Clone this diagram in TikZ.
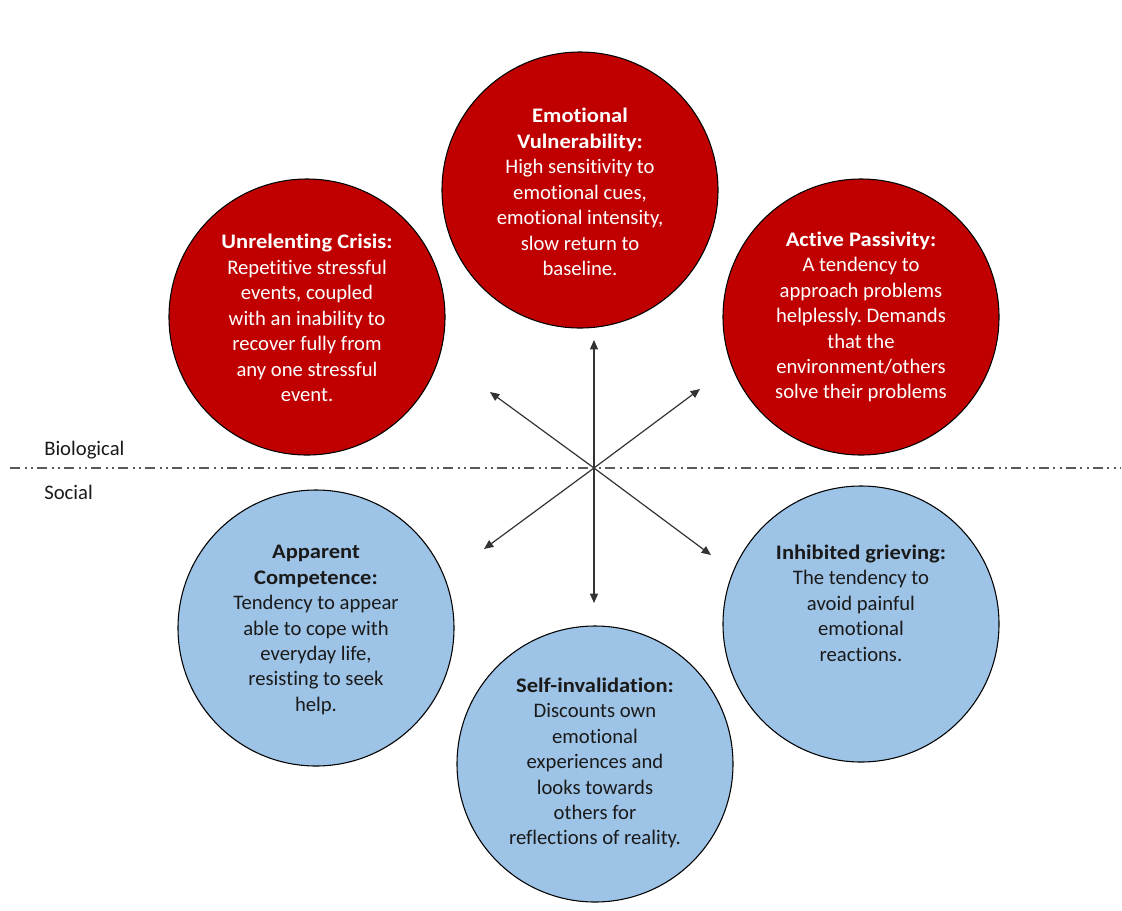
\documentclass[tikz,border=0pt]{standalone}
\usepackage{fontspec}
\setmainfont{Carlito}[Ligatures=NoCommon,BoldFeatures={FakeStretch=1.09}]
\usetikzlibrary{arrows.meta}
\definecolor{bioRed}{HTML}{C00000}
\definecolor{socBlue}{HTML}{9DC3E6}
\definecolor{inkDark}{HTML}{1A1A1A}
\frenchspacing
\begin{document}
\begin{tikzpicture}[x=0.75pt,y=-0.75pt,
  bubble/.style={circle,draw=black,line width=0.8pt,minimum size=207pt,inner sep=0pt},
  bio/.style={bubble,fill=bioRed},
  soc/.style={bubble,fill=socBlue},
  blurb/.style={align=center,font=\fontsize{15.5}{19.1}\selectfont,inner sep=0pt},
  biotext/.style={blurb,text=white},
  soctext/.style={blurb,text=inkDark},
  axis/.style={line width=0.9pt,draw=black!80,-{Triangle[length=7pt,width=6pt]}},
  side/.style={font=\fontsize{15.5}{17}\selectfont,text=inkDark,anchor=west,inner sep=0pt}]
\useasboundingbox (0,0) rectangle (1122,911);

% dividing line between the two halves
\coordinate (divL) at (10,468);
\coordinate (divR) at (1120,468);
\draw[black!65,line width=1.3pt,dash pattern=on 7.5pt off 3.4pt on 1.5pt off 3.4pt on 1.5pt off 3pt] (divL) -- (divR);
\node[side] (biolab) at (44,450) {Biological};
\node[side] (soclab) at (44,492) {Social};

% biological factors
\node[bio] (ev) at (580,190) {};
\node[bio] (uc) at (307,317) {};
\node[bio] (ap) at (861,317) {};
% social factors
\node[soc] (ac) at (316,628) {};
\node[soc] (ig) at (861,624) {};
\node[soc] (si) at (595,764) {};

\node[biotext] (evt) at (580,192) {\textbf{Emotional}\\\textbf{Vulnerability:}\\High sensitivity to\\emotional cues,\\emotional intensity,\\slow return to\\baseline.};
\node[biotext] (uct) at (307,318) {\textbf{Unrelenting Crisis:}\\Repetitive stressful\\events, coupled\\with an inability to\\recover fully from\\any one stressful\\event.};
\node[biotext] (apt) at (861,317) {\textbf{Active Passivity:}\\A tendency to\\approach problems\\helplessly. Demands\\that the\\environment/others\\solve their problems};
\node[soctext] (act) at (316,630) {\textbf{Apparent}\\\textbf{Competence:}\\Tendency to appear\\able to cope with\\everyday life,\\resisting to seek\\help.};
\node[soctext] (igt) at (861,603) {\textbf{Inhibited grieving:}\\The tendency to\\avoid painful\\emotional\\reactions.};
\node[soctext] (sit) at (595,763) {\textbf{Self-invalidation:}\\Discounts own\\emotional\\experiences and\\looks towards\\others for\\reflections of reality.};

% arrows radiating from the centre
\coordinate (hub) at (594,468);
\coordinate (tipN) at (594,340);
\coordinate (tipS) at (594,603);
\coordinate (tipNW) at (490,392);
\coordinate (tipNE) at (700,389);
\coordinate (tipSW) at (484,549);
\coordinate (tipSE) at (711,555);
\foreach \t in {tipN,tipS,tipNW,tipNE,tipSW,tipSE}
  \draw[axis] (hub) -- (\t);
\end{tikzpicture}
\end{document}
